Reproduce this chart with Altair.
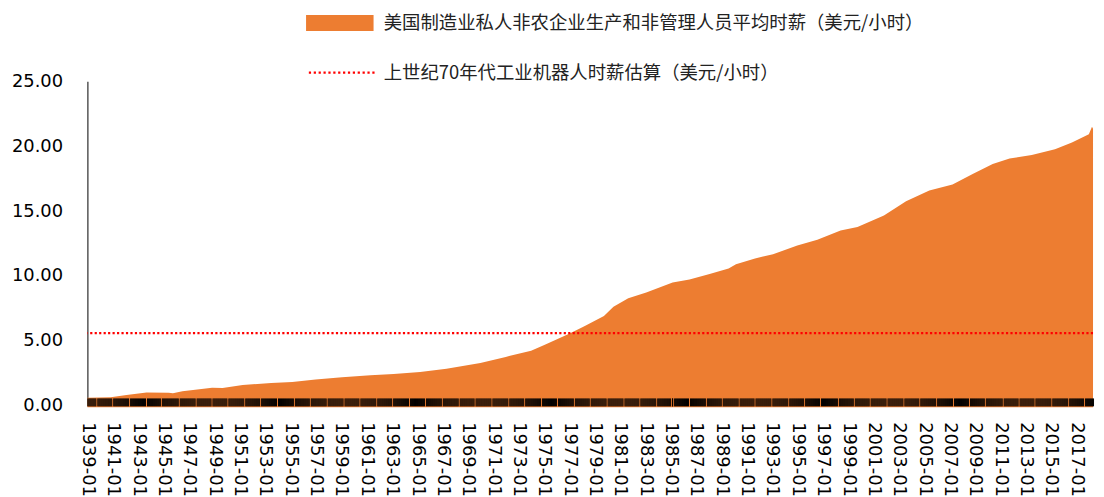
import altair as alt
import pandas as pd

# ---- data ----
dates = [
    "1939-01-01", "1940-11-01", "1942-02-01", "1943-09-01", "1945-06-01", "1945-10-01",
    "1946-07-01", "1948-11-01", "1949-09-01", "1951-04-01", "1953-07-01", "1955-03-01",
    "1957-01-01", "1959-02-01", "1961-05-01", "1963-03-01", "1965-04-01", "1967-05-01",
    "1970-01-01", "1972-01-01", "1974-01-01", "1975-02-01", "1977-01-01", "1978-03-01",
    "1979-10-01", "1980-07-01", "1981-09-01", "1983-02-01", "1985-03-01", "1986-07-01",
    "1988-02-01", "1989-08-01", "1990-03-01", "1991-09-01", "1993-02-01", "1995-01-01",
    "1996-08-01", "1998-06-01", "1999-10-01", "2001-11-01", "2003-08-01", "2005-06-01",
    "2007-04-01", "2008-11-01", "2010-06-01", "2011-10-01", "2013-07-01", "2015-05-01",
    "2016-09-01", "2018-01-01", "2018-04-01", "2018-05-01",
]
wages = [
    0.63, 0.67, 0.83, 1.03, 1.02, 0.98,
    1.13, 1.39, 1.38, 1.60, 1.77, 1.83,
    2.03, 2.20, 2.36, 2.46, 2.61, 2.85,
    3.30, 3.77, 4.25, 4.71, 5.55, 6.11,
    6.93, 7.64, 8.28, 8.74, 9.51, 9.74,
    10.15, 10.58, 10.91, 11.35, 11.68, 12.35,
    12.80, 13.50, 13.77, 14.66, 15.76, 16.58,
    17.04, 17.86, 18.62, 19.05, 19.33, 19.77,
    20.28, 20.92, 21.50, 21.35,
]
robot_cost = [5.6]
series_names = [
    "美国制造业私人非农企业生产和非管理人员平均时薪（美元/小时）",
    "上世纪70年代工业机器人时薪估算（美元/小时）",
]
series_colors = ["#ED7D31", "#FF0000"]
y_ticks = [0, 5, 10, 15, 20, 25]

df = pd.DataFrame({"date": dates, "wage": wages})
rule_df = pd.DataFrame({"v": robot_cost})
leg_df = pd.DataFrame({"series": series_names})

W, H = 1013, 327

# legend symbol shapes (unit coordinates, 8 px per unit at symbolSize 256)
rect_path = "M-4.25,-1H4.25V1H-4.25Z"
dots_path = "".join(
    f"M{-3.9 + i * 0.615:.3f},-0.14h0.28v0.28h-0.28Z" for i in range(14)
)

x_scale = alt.Scale(
    type="utc",
    domain=[alt.DateTime(year=1939, month=1, date=1, utc=True),
            alt.DateTime(year=2018, month=5, date=1, utc=True)],
    nice=False,
)
x_axis = alt.Axis(
    tickCount={"interval": "month", "step": 1},
    labelExpr="utcmonth(datum.value) == 0 && utcyear(datum.value) % 2 == 1 ? utcFormat(datum.value, '%Y-%m') : ''",
    labelAngle=90,
    labelAlign="left",
    labelBaseline="middle",
    labelFont="DejaVu Sans",
    labelFontSize=18,
    labelColor="#000000",
    labelPadding=16,
    labelOverlap=False,
    labelFlush=False,
    tickSize=8,
    tickColor="#000000",
    tickWidth=1.0,
    domain=False,
    offset=-8,
    grid=False,
    title=None,
    zindex=1,
)
y_axis = alt.Axis(
    values=y_ticks,
    format=".2f",
    labelFont="DejaVu Sans",
    labelFontSize=18,
    labelColor="#000000",
    labelPadding=25,
    ticks=False,
    domainColor="#000000",
    domainWidth=1,
    grid=False,
    title=None,
)

area = alt.Chart(df).mark_area(color=series_colors[0], opacity=1).encode(
    x=alt.X("date:T", scale=x_scale, axis=x_axis),
    y=alt.Y("wage:Q", scale=alt.Scale(domain=[0, 25], nice=False), axis=y_axis),
)

base_line = alt.Chart(rule_df).mark_rule(color=series_colors[0], strokeWidth=3).encode(
    y=alt.datum(0)
)

rule = alt.Chart(rule_df).mark_rule(
    color=series_colors[1], strokeDash=[2.2, 2.3], strokeWidth=2.2
).encode(y="v:Q")

leg_props = dict(
    title=None,
    orient="none",
    legendX=245,
    legendY=-68,
    direction="vertical",
    symbolSize=256,
    symbolOpacity=1,
    symbolStrokeWidth=0,
    labelFont="Noto Sans CJK SC",
    labelFontSize=18.5,
    labelColor="#222222",
    labelOffset=35,
    labelLimit=1000,
    rowPadding=31,
    padding=0,
)
legend_layer = alt.Chart(leg_df).mark_point(filled=True, opacity=0).encode(
    color=alt.Color("series:N", scale=alt.Scale(domain=series_names, range=series_colors),
                    legend=alt.Legend(**leg_props)),
    shape=alt.Shape("series:N", scale=alt.Scale(domain=series_names, range=[rect_path, dots_path]),
                    legend=alt.Legend(**leg_props)),
)

chart = (
    alt.layer(area, base_line, rule, legend_layer)
    .properties(
        width=W,
        height=H,
        autosize="none",
        padding={"left": 80, "top": 72, "right": 3, "bottom": 90},
    )
    .configure_view(stroke=None)
)

chart.save("out.html", embed_options={"renderer": "svg", "actions": False})
